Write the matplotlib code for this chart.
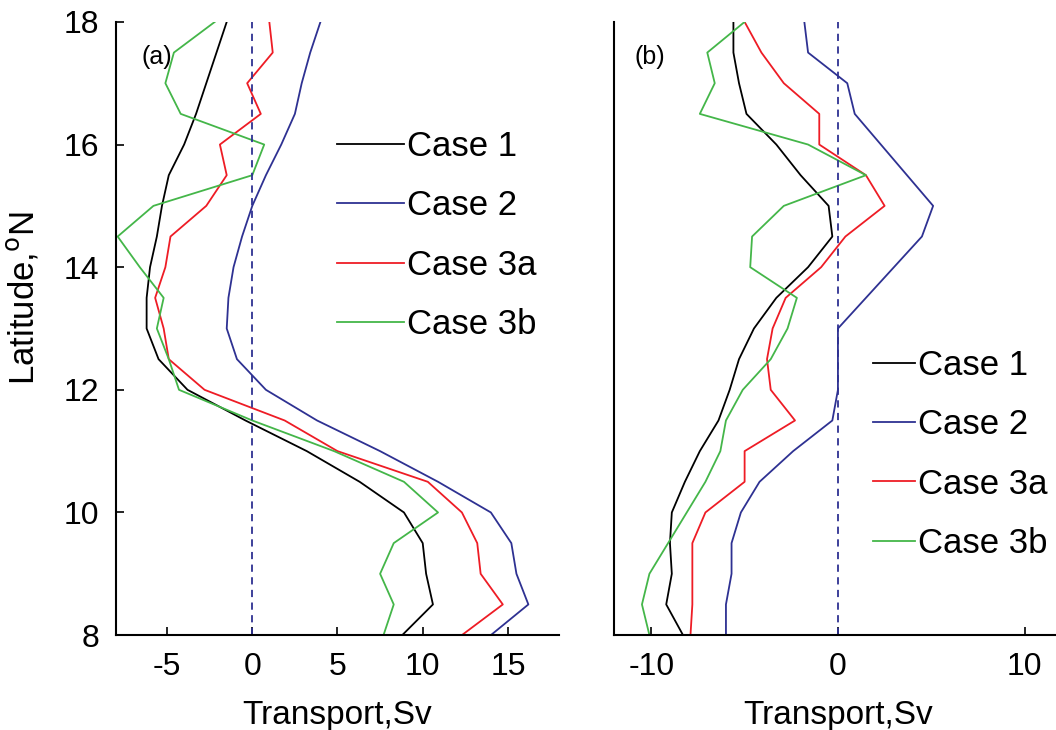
import matplotlib
matplotlib.use("Agg")
import matplotlib.pyplot as plt

plt.rcParams['font.family'] = ['Liberation Sans', 'DejaVu Sans']
plt.rcParams['axes.unicode_minus'] = False

lat = [8, 8.5, 9, 9.5, 10, 10.5, 11, 11.5, 12, 12.5, 13,
       13.5, 14, 14.5, 15, 15.5, 16, 16.5, 17, 17.5, 18]

# panel (a), values listed from 8N to 18N
a_case1 = [8.8, 10.6, 10.2, 10.0, 8.9, 6.3, 3.2, -0.4, -3.8, -5.5, -6.2,
           -6.2, -6.0, -5.6, -5.3, -4.9, -4.0, -3.3, -2.7, -2.1, -1.5]
a_case2 = [14.0, 16.2, 15.5, 15.2, 14.0, 10.9, 7.5, 3.8, 0.8, -0.9, -1.5,
           -1.4, -1.1, -0.6, 0.0, 0.8, 1.7, 2.5, 2.9, 3.4, 4.0]
a_case3a = [12.3, 14.7, 13.4, 13.2, 12.3, 10.3, 5.0, 1.9, -2.8, -4.9, -5.2,
            -5.7, -5.1, -4.8, -2.7, -1.5, -1.9, 0.5, -0.3, 1.2, 1.0]
a_case3b = [7.7, 8.3, 7.5, 8.3, 10.9, 8.9, 4.8, 0.0, -4.3, -4.9, -5.6,
            -5.2, -6.6, -7.9, -5.8, 0.0, 0.7, -4.2, -5.1, -4.6, -2.2]

# panel (b)
b_case1 = [-8.3, -9.2, -8.9, -9.0, -8.9, -8.2, -7.4, -6.4, -5.8, -5.3, -4.5,
           -3.3, -1.6, -0.3, -0.5, -2.0, -3.3, -4.9, -5.3, -5.6, -5.6]
b_case2 = [-6.0, -6.0, -5.7, -5.7, -5.2, -4.2, -2.4, -0.3, 0.0, 0.0, 0.0,
           1.5, 3.0, 4.5, 5.1, 3.7, 2.3, 0.9, 0.5, -1.6, -1.8]
b_case3a = [-7.9, -7.8, -7.8, -7.8, -7.1, -5.0, -5.0, -2.3, -3.6, -3.8, -3.5,
            -2.8, -0.9, 0.4, 2.5, 1.5, -1.0, -1.0, -2.9, -4.1, -5.0]
b_case3b = [-10.1, -10.5, -10.1, -9.1, -8.1, -7.1, -6.3, -6.0, -5.1, -3.6, -2.7,
            -2.2, -4.7, -4.6, -2.9, 1.5, -1.6, -7.4, -6.6, -7.0, -5.0]

labels = ["Case 1", "Case 2", "Case 3a", "Case 3b"]
colors = ["black", "#2e3192", "#ee1c25", "#44b649"]

fig = plt.figure(figsize=(10.56, 7.30), dpi=100)
ax1 = fig.add_axes([0.1098, 0.130, 0.4196, 0.840])
ax2 = fig.add_axes([0.5814, 0.130, 0.4242, 0.840])

for ax, series in [(ax1, [a_case1, a_case2, a_case3a, a_case3b]),
                   (ax2, [b_case1, b_case2, b_case3a, b_case3b])]:
    for s, c, lab in zip(series, colors, labels):
        ax.plot(s, lat, color=c, lw=1.3, label=lab)
    ax.axvline(0, color="#2e3192", ls="--", lw=1.3, dashes=(4, 3))
    ax.set_ylim(8, 18)
    ax.spines['top'].set_visible(False)
    ax.spines['right'].set_visible(False)
    ax.spines['left'].set_linewidth(1.5)
    ax.spines['bottom'].set_linewidth(1.5)
    ax.set_xlabel("Transport,Sv", fontsize=24, labelpad=13)
    ax.tick_params(direction='in', labelsize=23, length=6, width=1.2, pad=12)

ax1.set_xlim(-8, 18)
ax1.set_xticks([-5, 0, 5, 10, 15])
ax1.set_yticks([8, 10, 12, 14, 16, 18])
ax1.set_ylabel("Latitude,$^{\\rm o}$N", fontsize=25, labelpad=10)
ax1.yaxis.set_label_coords(-0.17, 0.55)

ax2.set_xlim(-12, 12)
ax2.set_xticks([-10, 0, 10])
ax2.set_yticks([])

ax1.text(0.093, 0.943, "(a)", transform=ax1.transAxes, fontsize=18,
         ha='center', va='center')
ax2.text(0.08, 0.943, "(b)", transform=ax2.transAxes, fontsize=18,
         ha='center', va='center')

leg_kw = dict(frameon=False, fontsize=25, handletextpad=0.1,
              labelspacing=0.76, borderaxespad=0)
ax1.legend(loc='upper left', bbox_to_anchor=(0.467, 0.8465), handlelength=1.93, **leg_kw)
ax2.legend(loc='upper left', bbox_to_anchor=(0.547, 0.4895), handlelength=1.21, **leg_kw)

fig.savefig("out.png", dpi=100)
